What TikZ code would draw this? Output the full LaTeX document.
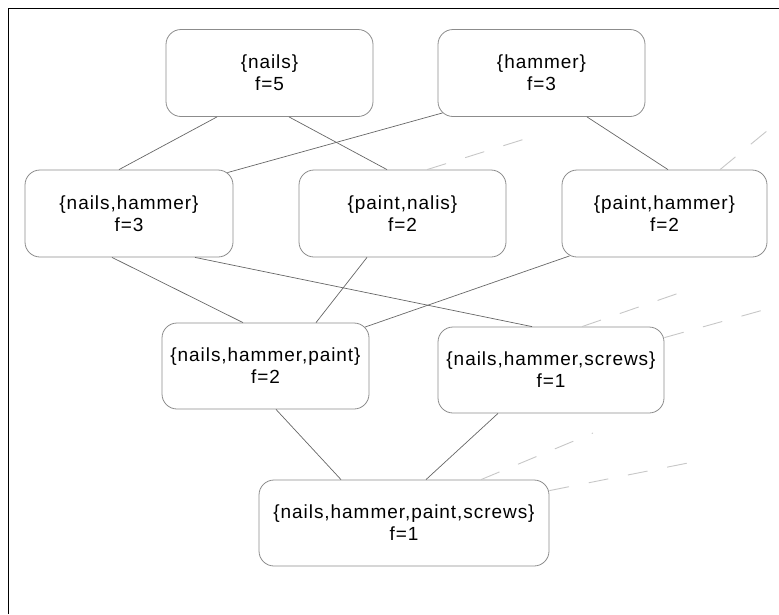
\documentclass[tikz,border=0pt]{standalone}
\usepackage{fontspec}
\newfontfamily\setfont{Liberation Sans}[LetterSpace=5]
\usepackage{tikz}

\begin{document}
\begin{tikzpicture}[x=1pt, y=-1pt,
    every node/.style={font=\setfont\fontsize{19}{22}\selectfont},
    box/.style={draw=black!45, line width=0.8pt, rounded corners=15pt, minimum width=207pt, minimum height=87pt, align=center, inner sep=2pt},
    link/.style={draw=black!60, line width=0.7pt},
    faded/.style={draw=black!22, line width=0.9pt, dash pattern=on 20pt off 20pt},
]
\useasboundingbox (0,0) rectangle (779,614);
\draw[line width=1.2pt] (8.5,614) -- (8.5,8.5) -- (779,8.5);

% single items
\node[box] (nails) at (269.5,73) {\{nails\}\\f=5};
\node[box] (hammer) at (541.5,73) {\{hammer\}\\f=3};

% pairs
\node[box, minimum width=208pt] (nh) at (129,213.5) {\{nails,hammer\}\\f=3};
\node[box] (pn) at (402.5,213.5) {\{paint,nalis\}\\f=2};
\node[box, minimum width=205pt] (ph) at (664.5,213.5) {\{paint,hammer\}\\f=2};

% triples
\node[box, minimum height=86pt] (nhp) at (265.5,366) {\{nails,hammer,paint\}\\f=2};
\node[box, minimum width=226pt, minimum height=86pt] (nhs) at (551,370) {\{nails,hammer,screws\}\\f=1};

% all four
\node[box, minimum width=290pt, minimum height=86pt] (nhps) at (404,523) {\{nails,hammer,paint,screws\}\\f=1};

% ends of the cut-off links
\coordinate (out1) at (528,138);
\coordinate (out2) at (779,121);
\coordinate (out3) at (682,292);
\coordinate (out4) at (767,309);
\coordinate (out5) at (593,433);
\coordinate (out6) at (698,461);

% links
\draw[link] ([xshift=-52.5pt]nails.south) -- ([xshift=-10pt]nh.north);
\draw[link] ([xshift=19.5pt]nails.south) -- ([xshift=-15.5pt]pn.north);
\draw[link] ([shift={(5,-4)}]hammer.south west) -- ([shift={(-6,3)}]nh.north east);
\draw[link] ([xshift=45.5pt]hammer.south) -- ([xshift=3.5pt]ph.north);
\draw[link] ([xshift=-17pt]nh.south) -- ([xshift=-22.5pt]nhp.north);
\draw[link] ([xshift=66pt]nh.south) -- ([xshift=-19pt]nhs.north);
\draw[link] ([xshift=-35.5pt]pn.south) -- ([xshift=50.5pt]nhp.north);
\draw[link] ([shift={(8,-1.5)}]ph.south west) -- ([shift={(-4.5,4.5)}]nhp.north east);
\draw[link] ([xshift=10.5pt]nhp.south) -- ([xshift=-63pt]nhps.north);
\draw[link] ([xshift=-53pt]nhs.south) -- ([xshift=22pt]nhps.north);

% links to sets off the picture
\draw[faded] ([xshift=24.5pt]pn.north) -- (out1);
\draw[faded] ([xshift=55.5pt]ph.north) -- (out2);
\draw[faded] ([xshift=31pt]nhs.north) -- (out3);
\draw[faded] ([shift={(0,11)}]nhs.north east) -- (out4);
\draw[faded] ([xshift=77pt]nhps.north) -- (out5);
\draw[faded] ([shift={(0,11)}]nhps.north east) -- (out6);

\end{tikzpicture}
\end{document}
